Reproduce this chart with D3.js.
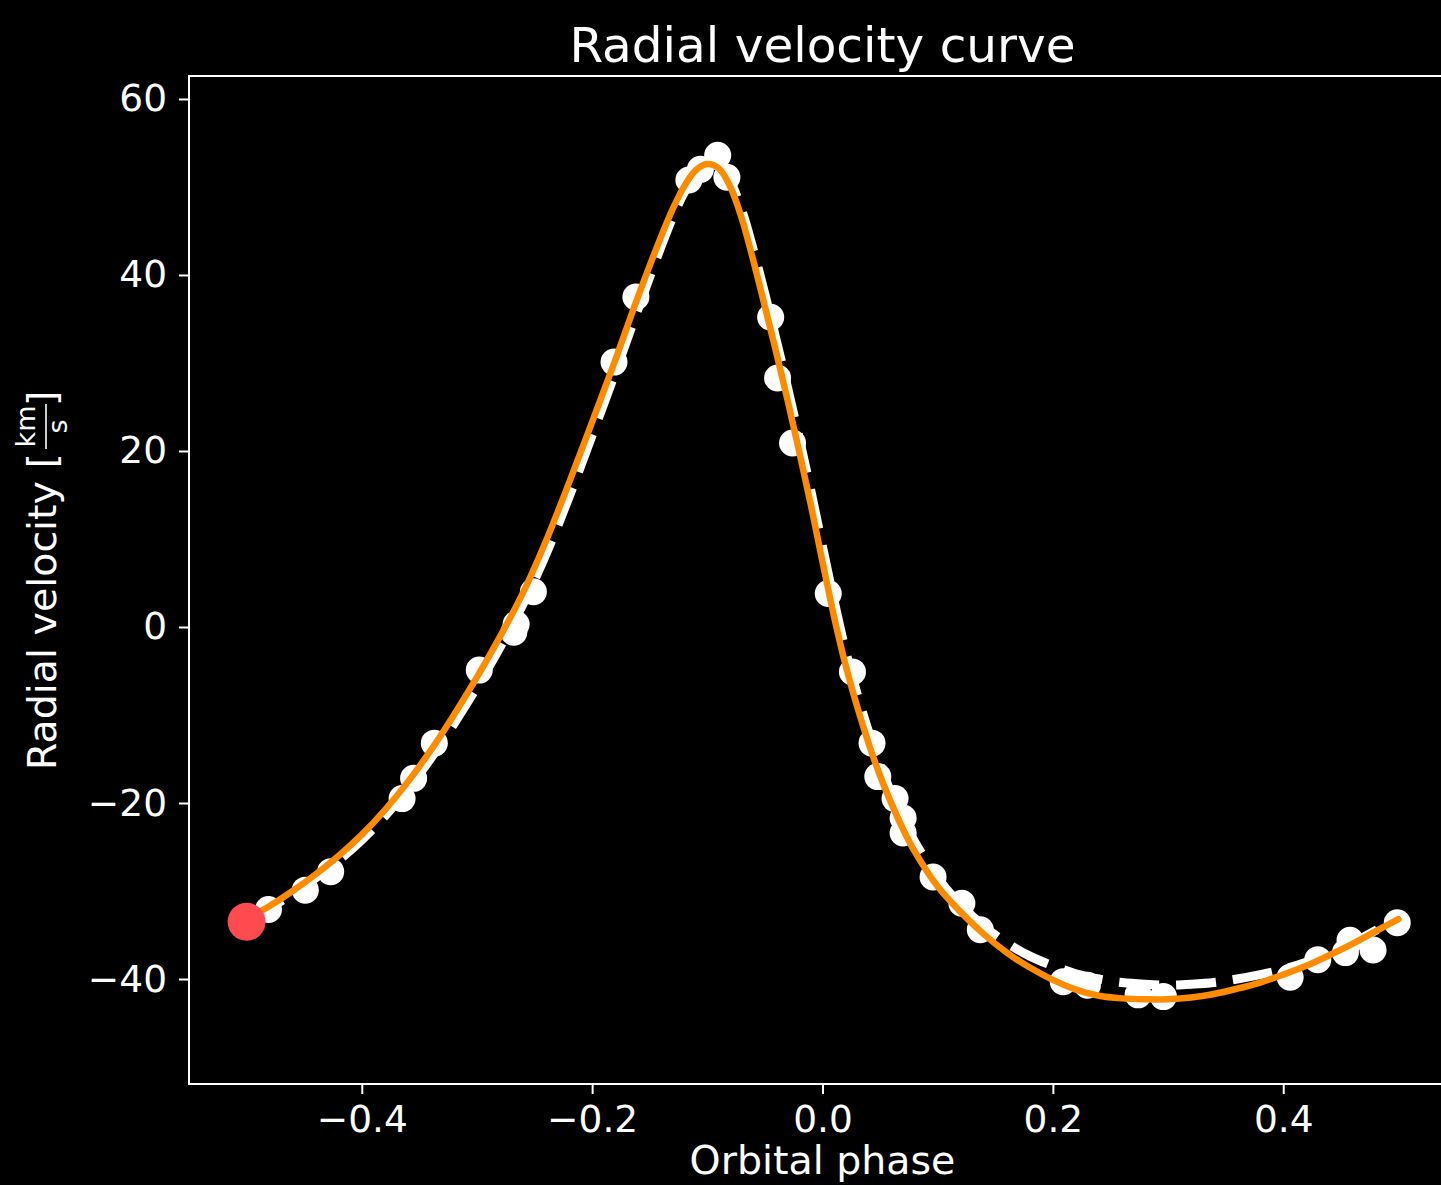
<!DOCTYPE html>
<html>
<head>
<meta charset="utf-8">
<script src="https://cdn.jsdelivr.net/npm/d3@7"></script>
<style>
  html, body { margin: 0; padding: 0; background: #000; }
  svg { display: block; }
</style>
</head>
<body>
<div id="chart"></div>
<script>
// observed radial velocities (phase, km/s)
const obsPhase = [-0.481, -0.449, -0.427, -0.365, -0.355, -0.337, -0.298, -0.268, -0.266, -0.251,
  -0.181, -0.162, -0.116, -0.106, -0.091, -0.083, -0.045, -0.039, -0.026, 0.005,
  0.026, 0.043, 0.048, 0.063, 0.070, 0.070, 0.096, 0.121, 0.137, 0.209,
  0.230, 0.274, 0.296, 0.406, 0.430, 0.454, 0.458, 0.478, 0.499];
const obsRv = [-32.1, -29.9, -27.8, -19.5, -17.2, -13.2, -4.9, -0.6, 0.3, 4.0,
  30.1, 37.5, 50.8, 52.0, 53.6, 51.1, 35.2, 28.3, 20.9, 3.8,
  -5.1, -13.2, -17.0, -19.5, -21.7, -23.4, -28.4, -31.4, -34.4, -40.3,
  -40.7, -41.8, -42.0, -39.8, -37.8, -37.0, -35.6, -36.7, -33.6];

// model curves sampled along the phase
const curvePhase = [-0.50, -0.48, -0.46, -0.44, -0.42, -0.40, -0.38, -0.36, -0.34, -0.32,
  -0.30, -0.28, -0.26, -0.24, -0.22, -0.20, -0.18, -0.16, -0.14, -0.13,
  -0.12, -0.11, -0.10, -0.09, -0.08, -0.07, -0.06, -0.05, -0.04, -0.03,
  -0.02, -0.01, 0.00, 0.01, 0.02, 0.03, 0.04, 0.05, 0.06, 0.07,
  0.08, 0.10, 0.12, 0.14, 0.16, 0.18, 0.20, 0.22, 0.24, 0.26,
  0.28, 0.30, 0.32, 0.34, 0.36, 0.38, 0.40, 0.42, 0.44, 0.46,
  0.48, 0.50];
const fitRv = [-33.2, -31.7, -30.0, -28.1, -26.0, -23.6, -20.8, -17.6, -14.0, -10.0,
  -5.7, -1.1, 3.9, 9.8, 16.4, 23.3, 30.3, 37.6, 44.4, 47.5,
  50.1, 51.9, 52.6, 52.1, 50.0, 46.4, 41.6, 36.4, 31.1, 25.6,
  19.8, 13.8, 7.4, 1.2, -4.3, -9.0, -13.2, -16.9, -20.1, -23.0,
  -25.5, -29.5, -32.4, -34.9, -37.0, -38.7, -40.1, -41.2, -41.9, -42.2,
  -42.3, -42.3, -42.1, -41.7, -41.1, -40.4, -39.5, -38.5, -37.3, -36.0,
  -34.6, -33.2];
const trueRv = [-33.0, -31.9, -30.3, -28.5, -26.5, -24.2, -21.5, -18.4, -14.9, -11.0,
  -6.8, -2.3, 2.6, 8.3, 14.8, 21.8, 28.9, 36.2, 43.3, 46.6,
  49.4, 51.4, 52.4, 52.3, 50.6, 47.3, 42.8, 37.8, 32.5, 27.0,
  21.3, 15.4, 9.1, 3.0, -2.7, -7.6, -11.9, -15.7, -19.0, -21.9,
  -24.4, -28.5, -31.6, -34.0, -35.9, -37.4, -38.5, -39.4, -40.0, -40.4,
  -40.6, -40.7, -40.6, -40.4, -40.0, -39.5, -38.9, -38.1, -37.1, -35.9,
  -34.5, -33.0];

// current position marker
const markerPoint = [-0.5, -33.5];

const xTicks = [-0.4, -0.2, 0.0, 0.2, 0.4];
const xTickLabels = ["\u22120.4", "\u22120.2", "0.0", "0.2", "0.4"];
const yTicks = [-40, -20, 0, 20, 40, 60];
const yTickLabels = ["\u221240", "\u221220", "0", "20", "40", "60"];

const width = 1441;
const height = 1185;
const font = "DejaVu Sans, sans-serif";

const svg = d3.select("#chart")
  .append("svg")
  .attr("width", width)
  .attr("height", height)
  .style("background", "#000");

const x = d3.scaleLinear().domain([-0.55, 0.55]).range([189, 1456]);
const y = d3.scaleLinear().domain([-51.93, 62.61]).range([1084, 76]);

// frame
svg.append("rect")
  .attr("x", x.range()[0])
  .attr("y", y.range()[1])
  .attr("width", x.range()[1] - x.range()[0])
  .attr("height", y.range()[0] - y.range()[1])
  .attr("fill", "none")
  .attr("stroke", "#fff")
  .attr("stroke-width", 2);

// axes
const xAxis = svg.append("g")
  .attr("transform", `translate(0,${y.range()[0]})`)
  .call(d3.axisBottom(x)
    .tickValues(xTicks)
    .tickSize(10)
    .tickPadding(11)
    .tickFormat((d, i) => xTickLabels[i]));

const yAxis = svg.append("g")
  .attr("transform", `translate(${x.range()[0]},0)`)
  .call(d3.axisLeft(y)
    .tickValues(yTicks)
    .tickSize(10)
    .tickPadding(12)
    .tickFormat((d, i) => yTickLabels[i]));

[xAxis, yAxis].forEach(g => {
  g.select(".domain").remove();
  g.selectAll(".tick line").attr("stroke", "#fff").attr("stroke-width", 2);
  g.selectAll(".tick text")
    .attr("fill", "#fff")
    .style("font-family", font)
    .style("font-size", "37.5px");
});

const points = obsPhase.map((p, i) => [p, obsRv[i]]);
const fitLine = curvePhase.map((p, i) => [p, fitRv[i]]);
const trueLine = curvePhase.map((p, i) => [p, trueRv[i]]);

const line = d3.line()
  .x(d => x(d[0]))
  .y(d => y(d[1]))
  .curve(d3.curveCatmullRom.alpha(0.5));

// observations
svg.append("g")
  .selectAll("circle")
  .data(points)
  .join("circle")
  .attr("cx", d => x(d[0]))
  .attr("cy", d => y(d[1]))
  .attr("r", 13.5)
  .attr("fill", "#fff");

// dashed model
svg.append("path")
  .datum(trueLine)
  .attr("d", line)
  .attr("fill", "none")
  .attr("stroke", "#fff")
  .attr("stroke-width", 9)
  .attr("stroke-dasharray", "40 17");

// fitted curve
svg.append("path")
  .datum(fitLine)
  .attr("d", line)
  .attr("fill", "none")
  .attr("stroke", "#ff8c00")
  .attr("stroke-width", 6.5)
  .attr("stroke-linecap", "round");

// marker
svg.append("circle")
  .attr("cx", x(markerPoint[0]))
  .attr("cy", y(markerPoint[1]))
  .attr("r", 19)
  .attr("fill", "#ff4a50");

// title
svg.append("text")
  .attr("x", (x.range()[0] + x.range()[1]) / 2)
  .attr("y", 62)
  .attr("text-anchor", "middle")
  .attr("fill", "#fff")
  .style("font-family", font)
  .style("font-size", "48.5px")
  .text("Radial velocity curve");

// x label
svg.append("text")
  .attr("x", (x.range()[0] + x.range()[1]) / 2)
  .attr("y", 1174)
  .attr("text-anchor", "middle")
  .attr("fill", "#fff")
  .style("font-family", font)
  .style("font-size", "39.5px")
  .text("Orbital phase");

// y label with km/s fraction
const yl = svg.append("g")
  .attr("transform", "translate(56,770) rotate(-90)")
  .attr("fill", "#fff")
  .style("font-family", font);

yl.append("text")
  .attr("x", 0).attr("y", 0)
  .style("font-size", "39.5px")
  .text("Radial velocity [");

yl.append("text")
  .attr("x", 343.5).attr("y", -21)
  .attr("text-anchor", "middle")
  .style("font-size", "27px")
  .text("km");

yl.append("line")
  .attr("x1", 321).attr("x2", 366)
  .attr("y1", -10).attr("y2", -10)
  .attr("stroke", "#fff")
  .attr("stroke-width", 1.6);

yl.append("text")
  .attr("x", 343.5).attr("y", 11)
  .attr("text-anchor", "middle")
  .style("font-size", "27px")
  .text("s");

yl.append("text")
  .attr("x", 364).attr("y", 0)
  .style("font-size", "39.5px")
  .text("]");
</script>
</body>
</html>
